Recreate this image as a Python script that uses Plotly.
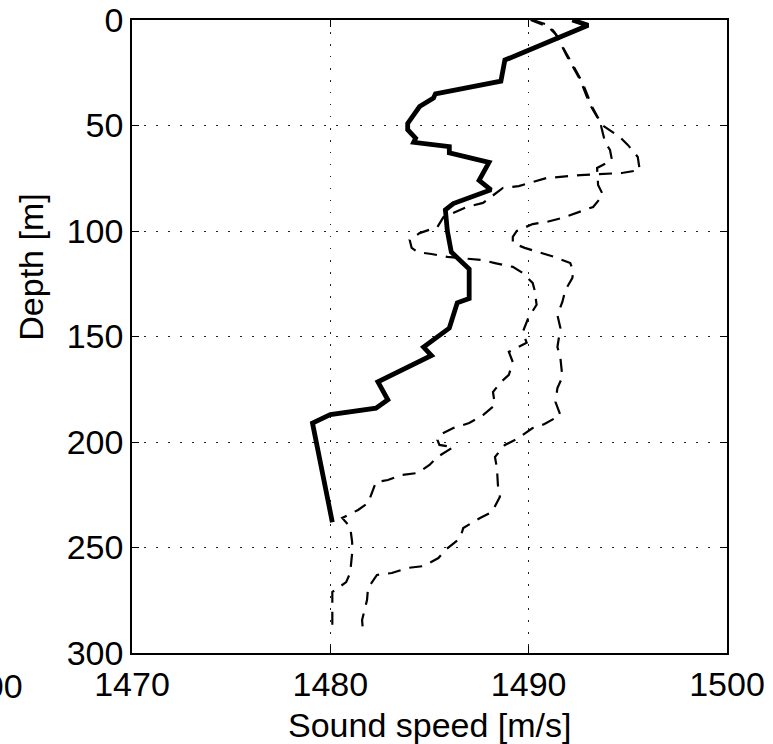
import plotly.graph_objects as go

# Solid profile (thick line)
depth_solid = [0, 2.5, 19, 29, 35, 37, 41, 49, 52, 56, 58, 60, 63, 67.5, 76, 80.5, 87, 90, 100,
               110, 118, 132, 134, 146, 155, 159, 171.5, 180, 184, 187, 191, 238]
speed_solid = [1492.2, 1493.0, 1488.8, 1488.6, 1485.3, 1485.2, 1484.5, 1483.9, 1483.9, 1484.3,
               1484.2, 1486.0, 1486.0, 1488.0, 1487.5, 1488.1, 1486.2, 1485.8, 1485.9,
               1486.1, 1487.0, 1487.0, 1486.4, 1486.0, 1484.7, 1485.1, 1482.4, 1482.9, 1482.3,
               1480.0, 1479.1, 1480.1]

# Dashed profile A
depth_a = [0, 2.4, 5.7, 17.5, 29.4, 41.2, 49.8, 55.5, 59.2, 64.9, 71.1, 72.5, 73.5, 74.9, 78.7,
           79.6, 86.7, 88.6, 93.4, 98.1, 101, 104.3, 108, 110, 110.9, 112.3, 112.8, 113.7, 115.2,
           117, 119.9, 124.6, 128, 135, 140.8, 147.9, 153, 157.3, 162.1, 168.2, 171.6, 176.3,
           182.5, 187.2, 191, 193.4, 196.7, 199, 201.4, 202.4, 207.1, 210.9, 214.7, 215.6, 218,
           219, 224, 228.9, 232.2, 236, 240.3, 247.4, 252.6, 262, 266.4, 271.1, 276.3, 290]
speed_a = [1490.2, 1491.0, 1491.3, 1492.0, 1492.7, 1493.2, 1493.7, 1494.6, 1495.0, 1495.5, 1495.6,
           1494.7, 1492.6, 1490.9, 1489.5, 1488.7, 1487.7, 1486.9, 1485.7, 1485.4, 1484.5, 1484.0,
           1484.1, 1484.4, 1485.1, 1485.9, 1486.4, 1487.6, 1488.3, 1489.2, 1489.7, 1490.2, 1490.3,
           1490.4, 1490.0, 1489.7, 1489.9, 1489.0, 1489.2, 1489.0, 1488.6, 1488.2, 1488.3, 1487.7,
           1487.0, 1486.2, 1485.5, 1485.4, 1485.5, 1486.2, 1485.4, 1485.0, 1484.4, 1483.6, 1482.9,
           1482.3, 1482.1, 1481.9, 1481.4, 1480.6, 1481.0, 1481.1, 1481.1, 1481.0, 1480.8, 1480.1,
           1480.1, 1480.1]

# Dashed profile B
depth_b = [0, 3.3, 7.1, 16.6, 28.4, 40.3, 48.3, 57.8, 61.6, 66.4, 70.1, 78.2, 82.9, 88.6, 93.8,
           95.7, 96.7, 100, 102.8, 105.7, 108, 110.4, 112.3, 115.2, 119.4, 122.3, 128, 133.6,
           139.8, 146, 155, 160.2, 169.2, 174.4, 181, 187.2, 191.5, 193.4, 198.6, 201.4, 207.1,
           212.3, 220.4, 226, 233.2, 236, 240.8, 245.5, 251.2, 255, 258.8, 259.7, 262.1, 263,
           269.2, 274.9, 284.4, 290]
speed_b = [1490.1, 1491.0, 1491.4, 1491.9, 1492.6, 1493.1, 1493.6, 1493.85, 1494.1, 1494.2,
           1493.45, 1493.5, 1493.75, 1493.25, 1491.7, 1490.9, 1490.2, 1489.4, 1489.2, 1489.2,
           1489.8, 1490.7, 1491.3, 1492.1, 1492.25, 1492.2, 1491.85, 1491.7, 1491.45, 1491.6,
           1491.45, 1491.6, 1491.7, 1491.45, 1491.35, 1491.6, 1490.8, 1490.2, 1489.4, 1488.8,
           1488.3, 1488.4, 1488.45, 1488.55, 1488.15, 1487.55, 1486.7, 1486.55, 1485.8, 1485.45,
           1484.7, 1483.9, 1483.1, 1482.35, 1481.9, 1481.85, 1481.6, 1481.65]

x_ticks = [1470, 1480, 1490, 1500]
y_ticks = [0, 50, 100, 150, 200, 250, 300]

FONT = "Liberation Sans, Arial, Helvetica, sans-serif"
FS = 34

fig = go.Figure()
fig.add_trace(go.Scatter(x=speed_solid, y=depth_solid, mode="lines",
                         line=dict(color="black", width=4.8), showlegend=False))
fig.add_trace(go.Scatter(x=speed_a, y=depth_a, mode="lines",
                         line=dict(color="black", width=2.2, dash="13px,9px"), showlegend=False))
fig.add_trace(go.Scatter(x=speed_b, y=depth_b, mode="lines",
                         line=dict(color="black", width=2.2, dash="13px,9px"), showlegend=False))

axis_common = dict(
    showline=True, linecolor="black", linewidth=1.5, mirror="ticks",
    ticks="inside", ticklen=7, tickwidth=1, tickcolor="black",
    showgrid=True, gridcolor="#222", gridwidth=1, griddash="1.5px,10.5px",
    zeroline=False, automargin=False,
    tickfont=dict(family=FONT, size=FS, color="black"),
)

fig.update_xaxes(range=[1470, 1500], tickvals=x_ticks, ticktext=[str(v) for v in x_ticks],
                 **axis_common)
fig.update_yaxes(range=[300, 0], tickvals=y_ticks, ticktext=[str(v) for v in y_ticks],
                 **axis_common)

fig.update_layout(
    width=773, height=744,
    margin=dict(l=132, r=46, t=20, b=91, autoexpand=False),
    paper_bgcolor="white", plot_bgcolor="white",
    font=dict(family=FONT, size=FS, color="black"),
    annotations=[
        dict(text="Sound speed [m/s]", xref="paper", yref="paper", x=0.5, y=-0.114,
             xanchor="center", yanchor="middle", showarrow=False,
             font=dict(family=FONT, size=FS, color="black")),
        dict(text="Depth [m]", xref="paper", yref="paper", x=-0.170, y=0.61,
             xanchor="center", yanchor="middle", textangle=-90, showarrow=False,
             font=dict(family=FONT, size=FS, color="black")),
        dict(text="1500", xref="paper", yref="paper", x=-0.180, y=-0.052,
             xanchor="right", yanchor="middle", showarrow=False,
             font=dict(family=FONT, size=FS, color="black")),
    ],
)

fig.write_html("out.html")
